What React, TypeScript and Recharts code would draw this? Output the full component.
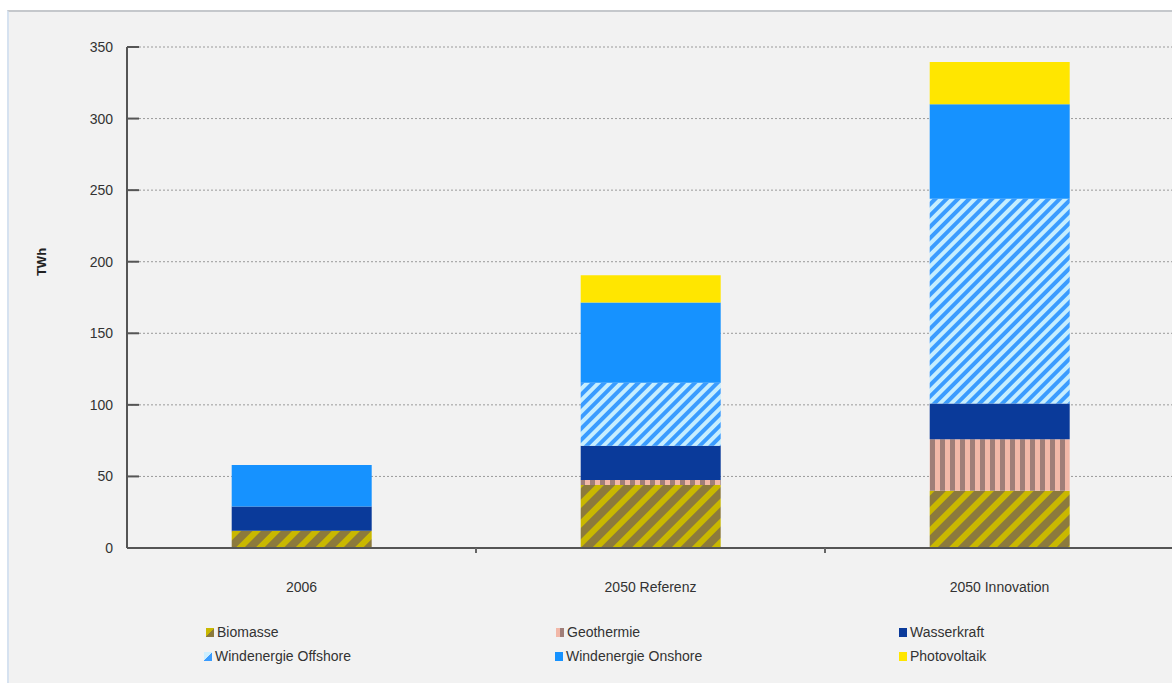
import { Bar, BarChart, CartesianGrid, XAxis, YAxis } from "recharts";

const categories = ["2006", "2050 Referenz", "2050 Innovation"];
const biomasse = [12, 44, 40];
const geothermie = [0, 3.5, 36];
const wasserkraft = [17, 24, 25];
const offshore = [0, 44, 143];
const onshore = [29, 56, 66];
const photovoltaik = [0, 19, 29.5];
const yTicks = [0, 50, 100, 150, 200, 250, 300, 350];

const data = categories.map((c, i) => ({
  name: c,
  biomasse: biomasse[i],
  geothermie: geothermie[i],
  wasserkraft: wasserkraft[i],
  offshore: offshore[i],
  onshore: onshore[i],
  photovoltaik: photovoltaik[i],
}));

const font = "'Liberation Sans', Arial, sans-serif";

const legendItems = [
  { label: "Biomasse", swatch: "linear-gradient(135deg,#c9b800 0 50%,#8c7a3c 50% 100%)", x: 206, y: 632 },
  { label: "Geothermie", swatch: "linear-gradient(90deg,#f2b8a8 0 50%,#a07e78 50% 100%)", x: 556, y: 632 },
  { label: "Wasserkraft", swatch: "#0a3a9a", x: 899, y: 632 },
  { label: "Windenergie Offshore", swatch: "linear-gradient(135deg,#cdefff 0 50%,#3a9cff 50% 100%)", x: 204, y: 656 },
  { label: "Windenergie Onshore", swatch: "#1692ff", x: 555, y: 656 },
  { label: "Photovoltaik", swatch: "#ffe600", x: 899, y: 656 },
];

function CategoryTick(props: any) {
  const { x, y, payload, index } = props;
  return (
    <g>
      {index > 0 && <line x1={x - 174.5} x2={x - 174.5} y1={y - 8} y2={y - 3} stroke="#666" strokeWidth={2} />}
      <text x={x} y={y + 36} textAnchor="middle" fill="#333" fontSize={14} fontFamily={font}>
        {payload.value}
      </text>
    </g>
  );
}

function ValueTick(props: any) {
  const { x, y, payload } = props;
  return (
    <g>
      <line x1={x + 8} x2={x + 20} y1={y} y2={y} stroke="#555" strokeWidth={2} />
      <text x={x - 6} y={y + 5} textAnchor="end" fill="#333" fontSize={14} fontFamily={font}>
        {payload.value}
      </text>
    </g>
  );
}

export default function App() {
  return (
    <div style={{ position: "absolute", left: 0, top: 0, width: 1172, height: 683, background: "#fff", overflow: "hidden" }}>
      <div
        style={{
          position: "absolute",
          left: 7,
          top: 10,
          width: 1165,
          height: 673,
          background: "#f2f2f2",
          borderTop: "2px solid #c5c8cc",
          borderLeft: "2px solid #d6e2f0",
        }}
      />
      <div style={{ position: "absolute", left: 0, top: 0 }}>
        <BarChart
          width={1180}
          height={683}
          data={data}
          margin={{ top: 47, right: 6, left: 0, bottom: 95 }}
          barCategoryGap="30%"
        >
          <defs>
            <pattern id="bio" width="14" height="14" patternUnits="userSpaceOnUse" patternTransform="rotate(45)">
              <rect width="14" height="14" fill="#c9b800" />
              <rect width="8" height="14" fill="#8c7a3c" />
            </pattern>
            <pattern id="geo" width="10" height="10" patternUnits="userSpaceOnUse">
              <rect width="10" height="10" fill="#f2b8a8" />
              <rect width="5" height="10" fill="#a07e78" />
            </pattern>
            <pattern id="off" width="8" height="8" patternUnits="userSpaceOnUse" patternTransform="rotate(45)">
              <rect width="8" height="8" fill="#c6eeff" />
              <rect width="4" height="8" fill="#3a9cff" />
            </pattern>
          </defs>
          <CartesianGrid vertical={false} stroke="#9a9a9a" strokeDasharray="2 2" />
          <XAxis
            dataKey="name"
            height={40}
            axisLine={{ stroke: "#555", strokeWidth: 2 }}
            tickLine={false}
            tick={<CategoryTick />}
            interval={0}
          />
          <YAxis
            width={127}
            domain={[0, 350]}
            ticks={yTicks}
            axisLine={{ stroke: "#555", strokeWidth: 2 }}
            tickLine={false}
            tickSize={6}
            tick={<ValueTick />}
            label={(p: any) => (
              <text
                x={46}
                y={262}
                transform="rotate(-90 46 262)"
                textAnchor="middle"
                fill="#222"
                fontSize={13}
                fontWeight="bold"
                fontFamily={font}
              >
                TWh
              </text>
            )}
          />
          <Bar dataKey="biomasse" stackId="a" fill="url(#bio)" isAnimationActive={false} />
          <Bar dataKey="geothermie" stackId="a" fill="url(#geo)" isAnimationActive={false} />
          <Bar dataKey="wasserkraft" stackId="a" fill="#0a3a9a" isAnimationActive={false} />
          <Bar dataKey="offshore" stackId="a" fill="url(#off)" isAnimationActive={false} />
          <Bar dataKey="onshore" stackId="a" fill="#1692ff" isAnimationActive={false} />
          <Bar dataKey="photovoltaik" stackId="a" fill="#ffe600" isAnimationActive={false} />
        </BarChart>
      </div>
      {legendItems.map((it) => (
        <div
          key={it.label}
          style={{
            position: "absolute",
            left: it.x,
            top: it.y - 9,
            display: "flex",
            alignItems: "center",
            fontFamily: font,
            fontSize: 14,
            color: "#333",
            lineHeight: "18px",
          }}
        >
          <span style={{ display: "inline-block", width: 8, height: 9, background: it.swatch, marginRight: 3 }} />
          {it.label}
        </div>
      ))}
    </div>
  );
}
